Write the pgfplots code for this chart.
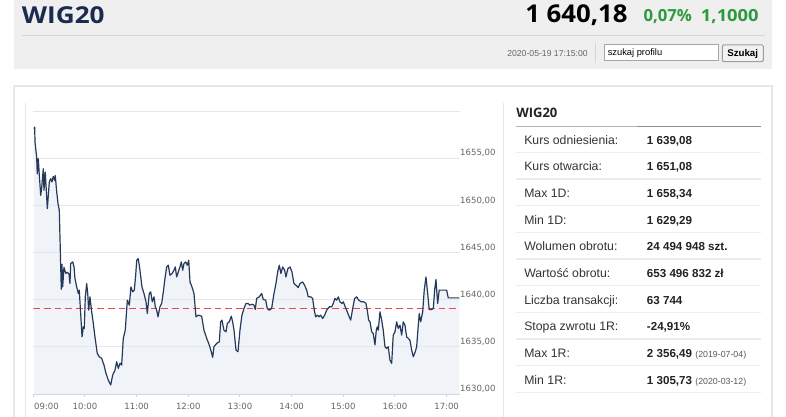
\documentclass[border=0pt]{standalone}
\usepackage{fontspec}
\usepackage{pgfplots}
\usepackage{pgfplotstable}
\usepackage{graphicx}
\pgfplotsset{compat=1.18}
\setmainfont{Liberation Sans}
\newfontfamily\dejavu{DejaVu Sans}
\newfontfamily\opensans{Open Sans}
\definecolor{headbg}{HTML}{EFEFEF}
\definecolor{headline}{HTML}{D6D6D6}
\definecolor{navyhead}{HTML}{1B2B4F}
\definecolor{greenup}{HTML}{2E9A3E}
\definecolor{panelborder}{HTML}{E8E8E8}
\definecolor{axisblue}{HTML}{CCD6EB}
\definecolor{gridgrey}{HTML}{E6E6E6}
\definecolor{labgrey}{HTML}{666666}
\definecolor{areablue}{HTML}{E3E9F0}
\definecolor{linenavy}{HTML}{253A5A}
\definecolor{refred}{HTML}{E8474B}
\definecolor{tabtext}{HTML}{333333}
\definecolor{tabval}{HTML}{222222}
\definecolor{tabline}{HTML}{ECECEC}
\definecolor{datetext}{HTML}{666666}

\pgfplotstableread{
m v
0.8 1658.12
1.6 1658.29
2.0 1656.70
3.9 1655.11
4.6 1653.35
5.8 1654.94
7.0 1653.17
8.6 1651.06
9.8 1651.94
11.6 1653.88
12.4 1651.59
13.9 1653.52
16.3 1649.65
18.6 1652.47
20.2 1652.83
21.7 1652.47
23.2 1653.07
24.8 1652.65
25.5 1653.17
27.2 1651.41
28.7 1650.18
30.2 1649.47
32.5 1641.11
33.3 1643.76
34.1 1641.35
35.6 1643.44
37.6 1642.80
39.5 1642.91
41.5 1642.70
42.6 1641.71
43.4 1643.83
45.8 1644.00
47.3 1643.47
48.4 1642.24
50.4 1641.35
52.3 1640.66
53.4 1641.01
55.0 1638.54
56.6 1636.06
58.1 1637.12
59.2 1636.95
60.4 1640.30
62.0 1641.71
63.2 1640.66
64.3 1638.89
65.8 1640.30
67.3 1639.07
69.7 1637.48
71.6 1636.06
74.3 1634.31
76.6 1633.95
79.4 1633.78
82.1 1633.07
84.4 1632.19
87.1 1631.48
89.9 1630.95
92.2 1632.01
94.9 1632.54
96.8 1633.42
98.7 1632.72
100.7 1633.25
102.6 1633.07
104.5 1635.89
106.8 1636.77
109.2 1639.95
111.5 1639.42
113.4 1641.35
115.4 1640.83
117.3 1641.01
118.9 1642.59
120.1 1644.18
121.9 1644.36
123.9 1643.12
126.2 1641.35
128.5 1640.66
130.9 1639.77
132.4 1638.54
134.7 1640.66
136.3 1640.83
138.2 1639.77
140.2 1640.30
141.7 1639.24
143.3 1638.89
144.8 1638.18
147.1 1639.24
149.1 1639.60
151.0 1640.83
152.9 1642.24
154.9 1643.47
156.8 1643.65
158.7 1642.59
161.1 1642.77
163.4 1643.12
164.9 1643.47
166.5 1642.41
168.4 1642.94
170.3 1643.47
171.9 1644.00
173.5 1643.12
175.0 1643.83
177.0 1644.00
178.8 1643.65
180.5 1644.18
182.0 1641.88
184.3 1641.35
186.6 1640.66
188.9 1638.18
191.6 1638.36
195.5 1638.25
198.2 1636.77
201.4 1635.89
204.4 1635.19
206.7 1634.48
208.3 1633.88
209.8 1635.01
213.0 1635.37
216.0 1635.53
217.6 1637.65
219.1 1637.83
221.4 1636.77
223.8 1636.59
225.3 1637.48
227.6 1637.65
229.9 1638.25
231.5 1637.65
233.1 1636.77
235.4 1634.66
237.7 1634.48
240.0 1636.77
242.3 1638.36
244.7 1639.07
247.0 1639.60
249.3 1639.60
251.6 1639.42
254.0 1639.52
256.3 1639.42
257.8 1638.96
259.4 1640.13
262.4 1640.30
265.2 1640.66
267.1 1640.02
269.9 1639.95
271.7 1639.07
274.0 1638.89
276.8 1639.07
279.5 1640.66
281.8 1641.71
283.8 1642.94
285.7 1643.65
287.6 1642.77
289.6 1643.47
291.9 1643.12
293.4 1642.41
295.7 1643.30
298.1 1643.47
300.4 1642.94
302.7 1641.71
305.0 1641.53
307.7 1641.29
309.7 1641.71
312.8 1641.88
315.1 1641.53
317.5 1641.01
319.3 1640.30
322.1 1640.30
324.4 1640.13
326.3 1638.89
327.9 1638.18
329.8 1638.36
331.8 1638.18
333.7 1638.36
336.1 1638.01
338.4 1638.36
340.7 1638.89
343.7 1639.24
346.5 1639.24
348.4 1639.60
350.3 1640.13
352.3 1639.95
354.2 1640.30
356.1 1639.77
358.5 1639.60
360.0 1639.77
362.3 1639.24
364.6 1638.71
366.9 1638.18
368.6 1637.83
370.9 1639.07
373.2 1640.13
375.5 1640.30
377.9 1639.95
380.9 1639.77
384.0 1639.77
386.3 1639.60
387.8 1638.89
389.5 1637.83
391.0 1637.65
393.0 1636.59
394.8 1636.42
396.8 1635.19
398.3 1636.77
399.5 1637.12
400.6 1636.77
402.6 1638.71
404.6 1637.83
406.4 1636.77
408.4 1635.01
410.4 1634.84
412.2 1635.01
414.2 1633.60
416.2 1633.25
418.0 1636.24
420.0 1636.59
422.0 1637.65
423.8 1636.95
425.8 1637.30
427.8 1636.24
429.6 1637.65
431.6 1637.30
433.6 1636.06
435.5 1635.89
437.4 1635.71
439.4 1634.66
441.3 1633.95
443.6 1634.48
445.2 1635.01
447.1 1637.30
448.2 1638.54
449.9 1637.65
452.2 1638.71
454.0 1641.01
456.0 1642.41
458.0 1640.66
459.8 1638.96
462.6 1638.96
464.5 1639.07
466.1 1641.01
467.6 1642.14
469.6 1639.60
471.4 1641.01
474.2 1641.01
480.0 1641.01
481.9 1640.19
494.7 1640.19
}\wigdata

\newcommand{\tabrow}[3]{%
  \node[anchor=base west, inner sep=0pt, text=tabtext, font=\fontsize{9.2}{11}\selectfont] at (524,{144.3+26.67*#1}) {#2};
  \node[anchor=base west, inner sep=0pt, text=tabval, font=\bfseries\fontsize{8.7}{10}\selectfont] at (646.7,{144.3+26.67*#1}) {#3};
  \draw[tabline, line width=1pt] (516,{152.3+26.67*#1}) -- (761,{152.3+26.67*#1});
}

\begin{document}
\begin{tikzpicture}
\useasboundingbox (0,0) rectangle (589.5pt,-312.75pt);
\fill[white] (0,0) rectangle (589.5pt,-312.75pt);
\begin{scope}[x=0.75pt,y=-0.75pt]
  % header
  \fill[headbg] (14,0) rectangle (772,69.5);
  \draw[headline, line width=0.75pt] (21.7,35.5) -- (765,35.5);
  \node[anchor=base west, inner sep=0pt, text=navyhead, font=\opensans\bfseries\fontsize{17.5}{20}\selectfont] at (21.7,23.3) {\scalebox{1.12}[1]{WIG20}};
  \node[anchor=base west, inner sep=0pt, text=black, font=\opensans\bfseries\fontsize{18.4}{21}\selectfont] at (525,22.7) {\scalebox{1.05}[1]{1 640,18}};
  \node[anchor=base west, inner sep=0pt, text=greenup, font=\opensans\bfseries\fontsize{12.5}{14}\selectfont] at (643.3,21.7) {0,07\%};
  \node[anchor=base west, inner sep=0pt, text=greenup, font=\opensans\bfseries\fontsize{12.5}{14}\selectfont] at (700.7,21.7) {\scalebox{1.1}[1]{1,1000}};
  \node[anchor=base west, inner sep=0pt, text=datetext, font=\fontsize{6.5}{8}\selectfont] at (507,56.4) {2020-05-19 17:15:00};
  \draw[headline, line width=0.75pt] (595,43) -- (595,63);
  \draw[fill=white, draw=black!35, line width=0.75pt] (604.3,45) rectangle (718.3,61);
  \node[anchor=base west, inner sep=0pt, text=black, font=\fontsize{7}{8}\selectfont] at (607.5,56) {szukaj profilu};
  \draw[fill=black!5, draw=black!38, line width=0.75pt, rounded corners=1pt] (722.3,45) rectangle (763.3,61.7);
  \node[anchor=base west, inner sep=0pt, text=black, font=\bfseries\fontsize{7.3}{8}\selectfont] at (727,56.5) {Szukaj};
  % panel
  \draw[panelborder, line width=1.5pt] (14,86) -- (14,430) (772,430) -- (772,86) -- (14,86);
  \draw[gridgrey, line width=0.75pt] (25,103) -- (25,420);
  \draw[gridgrey, line width=0.75pt] (503,103) -- (503,420);
  % table
  \node[anchor=base west, inner sep=0pt, text=tabval, font=\opensans\bfseries\fontsize{9.75}{11}\selectfont] at (516,117.7) {WIG20};
  \draw[black!30, line width=1pt] (516,126.7) -- (638,126.7);
  \draw[black!45, line width=1pt] (638,126.7) -- (761,126.7);
  \tabrow{0}{Kurs odniesienia:}{1 639,08}
  \tabrow{1}{Kurs otwarcia:}{1 651,08}
  \tabrow{2}{Max 1D:}{1 658,34}
  \tabrow{3}{Min 1D:}{1 629,29}
  \tabrow{4}{Wolumen obrotu:}{24 494 948 szt.}
  \tabrow{5}{Wartość obrotu:}{653 496 832 zł}
  \tabrow{6}{Liczba transakcji:}{63 744}
  \tabrow{7}{Stopa zwrotu 1R:}{-24,91\%}
  \tabrow{8}{Max 1R:}{2 356,49 {\mdseries\color{black!65}\fontsize{6.6}{8}\selectfont(2019-07-04)}}
  \tabrow{9}{Min 1R:}{1 305,73 {\mdseries\color{black!65}\fontsize{6.6}{8}\selectfont(2020-03-12)}}
\end{scope}
\begin{axis}[
  at={(24.975pt,-295.5pt)}, anchor=south west,
  scale only axis, width=320pt, height=212.25pt,
  xmin=0, xmax=495.5, ymin=1630, ymax=1660,
  axis x line=bottom, axis y line=right,
  x axis line style={draw=axisblue, line width=0.75pt, -},
  y axis line style={draw=none, -},
  xtick={60,120,180,240,300,360,420,480},
  xticklabels={10:00,11:00,12:00,13:00,14:00,15:00,16:00,17:00},
  extra x ticks={0}, extra x tick labels={09:00},
  extra x tick style={xticklabel style={anchor=north west, xshift=0.5pt}},
  ytick={1630,1635,1640,1645,1650,1655,1660},
  yticklabels={{1630,00},{1635,00},{1640,00},{1645,00},{1650,00},{1655,00},{}},
  ymajorgrids, y grid style={draw=gridgrey, line width=0.75pt},
  tick align=outside, major tick length=2.5pt,
  x tick style={draw=axisblue, line width=0.75pt},
  y tick style={draw=none},
  ticklabel style={font=\dejavu\fontsize{6.4}{7}\selectfont, text=labgrey, inner sep=0pt},
  xticklabel style={anchor=north, yshift=-4pt},
  yticklabel style={anchor=west, xshift=-2.5pt, yshift=3.75pt},
]
\addplot[draw=none, fill=areablue, fill opacity=0.5] table[x=m,y=v]{\wigdata} \closedcycle;
\addplot[draw=refred, line width=0.75pt, dash pattern=on 5pt off 3pt] coordinates {(0,1639.08) (495.5,1639.08)};
\addplot[draw=linenavy, line width=0.9pt, mark=none, line join=round] table[x=m,y=v]{\wigdata};
\end{axis}
\end{tikzpicture}
\end{document}
